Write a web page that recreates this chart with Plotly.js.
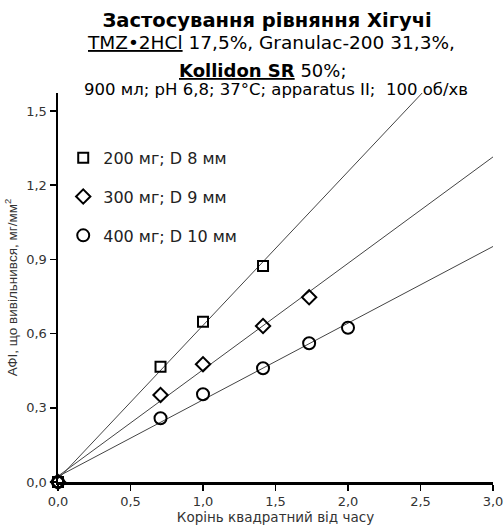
<!DOCTYPE html>
<html><head><meta charset="utf-8">
<script src="https://cdn.plot.ly/plotly-3.0.1.min.js"></script>
<style>body{margin:0;background:#fff}#chart{width:504px;height:527px}</style>
</head><body><div id="chart"></div>
<script>
// Data
const seriesNames = ['200 мг; D 8 мм', '300 мг; D 9 мм', '400 мг; D 10 мм'];
const xSquare = [0, 0.707, 1.0, 1.414];
const ySquare = [0, 0.466, 0.648, 0.873];
const xDiamond = [0, 0.707, 1.0, 1.414, 1.732];
const yDiamond = [0, 0.352, 0.476, 0.631, 0.747];
const xCircle = [0, 0.707, 1.0, 1.414, 1.732, 2.0];
const yCircle = [0, 0.258, 0.355, 0.46, 0.561, 0.624];
const xTickVals = [0, 0.5, 1.0, 1.5, 2.0, 2.5, 3.0];
const yTickVals = [0, 0.3, 0.6, 0.9, 1.2, 1.5];
const xRange = [0, 3];
const yRange = [0, 1.573];

const FONT = 'DejaVu Sans, Verdana, sans-serif';
const FONT2 = 'Liberation Sans, Arial, sans-serif';

function fit(xs, ys) {
  const n = xs.length;
  const mx = xs.reduce((a, b) => a + b, 0) / n;
  const my = ys.reduce((a, b) => a + b, 0) / n;
  let sxy = 0, sxx = 0;
  for (let i = 0; i < n; i++) { sxy += (xs[i] - mx) * (ys[i] - my); sxx += (xs[i] - mx) ** 2; }
  const k = sxy / sxx;
  return { k: k, b: my - k * mx };
}
function trend(xs, ys) {
  const f = fit(xs, ys);
  const lx = [xRange[0], xRange[1]];
  return {
    x: lx, y: lx.map(v => f.k * v + f.b), mode: 'lines', type: 'scatter',
    line: { color: '#444', width: 1 }, showlegend: false, hoverinfo: 'skip'
  };
}
function pts(xs, ys, name, symbol, size) {
  return {
    x: xs, y: ys, name: name, legendgroup: name, mode: 'markers', type: 'scatter', cliponaxis: false,
    marker: { symbol: symbol, size: size, color: '#000', line: { color: '#000', width: 2 } }
  };
}

const data = [
  trend(xSquare, ySquare), trend(xDiamond, yDiamond), trend(xCircle, yCircle),
  pts(xSquare, ySquare, seriesNames[0], 'square-open', 10),
  pts(xDiamond, yDiamond, seriesNames[1], 'diamond-open', 11),
  pts(xCircle, yCircle, seriesNames[2], 'circle-open', 12)
];

const axisCommon = {
  showline: true, linecolor: '#000', linewidth: 2.5, ticks: 'outside', ticklen: 6, tickwidth: 1.5,
  tickcolor: '#000', showgrid: false, zeroline: false, tickformat: '.1f',
  tickfont: { family: FONT, size: 13, color: '#333' }, fixedrange: true
};

const layout = {
  width: 504, height: 527,
  margin: { l: 58, r: 11, t: 93, b: 45 },
  paper_bgcolor: '#fff', plot_bgcolor: '#fff',
  separators: ',.',
  font: { family: FONT, color: '#000' },
  title: {
    text: '<b>Застосування рівняння Хігучі</b>',
    font: { family: FONT, size: 19.5, color: '#000' },
    x: 0.53, xanchor: 'center', y: 0.962, yanchor: 'middle', yref: 'container', xref: 'container'
  },
  xaxis: Object.assign({}, axisCommon, {
    range: xRange, tickvals: xTickVals,
    title: { text: 'Корінь квадратний від часу', font: { family: FONT, size: 13.5, color: '#333' }, standoff: 0 }
  }),
  yaxis: Object.assign({}, axisCommon, {
    range: yRange, tickvals: yTickVals,
    title: { text: 'АФІ, що вивільнився, мг/мм<sup>2</sup>', font: { family: FONT2, size: 13.5, color: '#333' }, standoff: 6 }
  }),
  showlegend: true,
  legend: {
    x: 0.012, y: 0.877, xanchor: 'left', yanchor: 'top', bgcolor: 'rgba(0,0,0,0)',
    font: { family: FONT, size: 16, color: '#222' }, tracegroupgap: 15, itemsizing: 'trace', itemwidth: 30
  },
  annotations: [
    { xref: 'paper', yref: 'paper', x: 0.49, y: 1.131, xanchor: 'center', yanchor: 'middle', showarrow: false,
      text: '<u>TMZ•2HCl</u> 17,5%, Granulac-200 31,3%,', font: { family: FONT, size: 18.5, color: '#000' } },
    { xref: 'paper', yref: 'paper', x: 0.471, y: 1.059, xanchor: 'center', yanchor: 'middle', showarrow: false,
      text: '<u><b>Kollidon SR</b></u> 50%;', font: { family: FONT, size: 18, color: '#000' } },
    { xref: 'paper', yref: 'paper', x: 0.501, y: 1.008, xanchor: 'center', yanchor: 'middle', showarrow: false,
      text: '900 мл; pH 6,8; 37°C; apparatus II;  100 об/хв', font: { family: FONT, size: 16.5, color: '#000' } }
  ]
};

Plotly.newPlot('chart', data, layout, { displayModeBar: false, staticPlot: true });
</script></body></html>
